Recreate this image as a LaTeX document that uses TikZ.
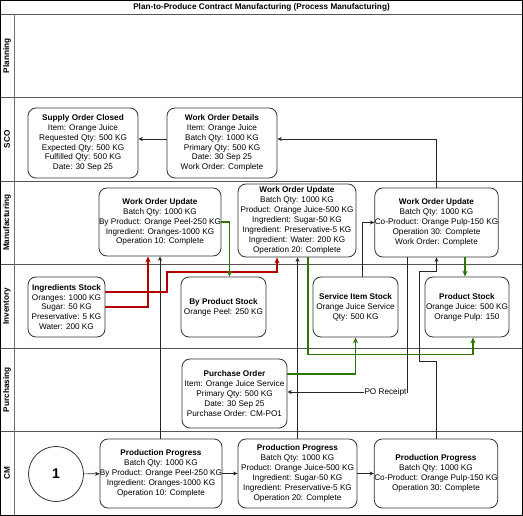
\documentclass[tikz,border=0pt]{standalone}
\usepackage{fontspec}
\setmainfont{Liberation Sans}
\usetikzlibrary{arrows.meta,calc}
\definecolor{myred}{HTML}{B20000}
\definecolor{mygreen}{HTML}{2D7600}
\definecolor{boxline}{HTML}{333333}
\definecolor{laneline}{HTML}{555555}
\begin{document}
\begin{tikzpicture}[x=1pt,y=-1pt,
  box/.style={draw=boxline,line width=0.8pt,rounded corners=8pt,fill=white,align=center,inner sep=0pt,font=\fontsize{8.2}{9.9}\selectfont},
  lanelabel/.style={rotate=90,font=\bfseries\fontsize{8.2}{10}\selectfont},
  conn/.style={draw=black!85,line width=0.7pt,-{Stealth[length=4.5pt,width=4pt]}},
  redc/.style={draw=myred,line width=1.1pt,-{Stealth[length=6pt,width=5pt]}},
  greenc/.style={draw=mygreen,line width=1.1pt,-{Stealth[length=6pt,width=5pt]}},
  lane/.style={draw=laneline,line width=0.9pt}
]
\useasboundingbox (0,0) rectangle (523,516);
% lanes
\draw[lane] (0,14) -- (523,14);
\foreach \yy in {97.5,181,264.5,348,431.5} {\draw[lane] (0,\yy) -- (523,\yy);}
\draw[draw=black!55,line width=0.9pt] (14,14) -- (14,516);
\draw[line width=1pt] (0.5,0.5) rectangle (522.5,515.5);
\node[font=\bfseries\fontsize{8.2}{10}\selectfont] (title) at (261.5,7.5) {Plan-to-Produce Contract Manufacturing (Process Manufacturing)};
\node[lanelabel] (lplan) at (7,55.75) {Planning};
\node[lanelabel] (lsco) at (7,139.25) {SCO};
\node[lanelabel] (lman) at (7,222.75) {Manufacturing};
\node[lanelabel] (linv) at (7,306.25) {Inventory};
\node[lanelabel] (lpur) at (7,389.75) {Purchasing};
\node[lanelabel] (lcm) at (7,473.25) {CM};

% SCO
\node[box,minimum width=110pt,minimum height=70pt] (soc) at (83,143) {\textbf{Supply Order Closed}\\Item: Orange Juice\\Requested Qty: 500 KG\\Expected Qty: 500 KG\\Fulfilled Qty: 500 KG\\Date: 30 Sep 25};
\node[box,minimum width=110pt,minimum height=70pt] (wod) at (222,143) {\textbf{Work Order Details}\\Item: Orange Juice\\Batch Qty: 1000 KG\\Primary Qty: 500 KG\\Date: 30 Sep 25\\Work Order: Complete};

% Manufacturing
\node[box,minimum width=118pt,minimum height=68pt] (wou1) at (160,222) {\textbf{Work Order Update}\\Batch Qty: 1000 KG\\By Product: Orange Peel-250 KG\\Ingredient: Oranges-1000 KG\\Operation 10: Complete};
\node[box,minimum width=118pt,minimum height=73pt] (wou2) at (297,220.5) {\textbf{Work Order Update}\\Batch Qty: 1000 KG\\Product: Orange Juice-500 KG\\Ingredient: Sugar-50 KG\\Ingredient: Preservative-5 KG\\Ingredient: Water: 200 KG\\Operation 20: Complete};
\node[box,minimum width=119pt,minimum height=69pt] (wou3) at (436.5,222.5) {\textbf{Work Order Update}\\Batch Qty: 1000 KG\\Co-Product: Orange Pulp-150 KG\\Operation 30: Complete\\Work Order: Complete};

% Inventory
\node[box,minimum width=77pt,minimum height=60pt] (is) at (66.5,307) {\textbf{Ingredients Stock}\\Oranges: 1000 KG\\Sugar: 50 KG\\Preservative: 5 KG\\Water: 200 KG};
\node[box,minimum width=85pt,minimum height=60pt] (bps) at (223.5,307) {\textbf{By Product Stock}\\Orange Peel: 250 KG};
\node[box,minimum width=85pt,minimum height=60pt] (sis) at (355.5,307) {\textbf{Service Item Stock}\\Orange Juice Service\\Qty: 500 KG};
\node[box,minimum width=84pt,minimum height=60pt] (ps) at (467,307) {\textbf{Product Stock}\\Orange Juice: 500 KG\\Orange Pulp: 150};

% Purchasing
\node[box,minimum width=105pt,minimum height=69pt] (po) at (234.5,393.5) {\textbf{Purchase Order}\\Item: Orange Juice Service\\Primary Qty: 500 KG\\Date: 30 Sep 25\\Purchase Order: CM-PO1};

% CM
\node[draw=boxline,line width=0.8pt,circle,fill=white,minimum size=55pt,inner sep=0pt,font=\bfseries\fontsize{14}{16}\selectfont] (c1) at (56,474) {1};
\node[box,minimum width=118pt,minimum height=69pt] (pp1) at (161,473.5) {\textbf{Production Progress}\\Batch Qty: 1000 KG\\By Product: Orange Peel-250 KG\\Ingredient: Oranges-1000 KG\\Operation 10: Complete};
\node[box,minimum width=119pt,minimum height=69pt] (pp2) at (297.5,473.5) {\textbf{Production Progress}\\Batch Qty: 1000 KG\\Product: Orange Juice-500 KG\\Ingredient: Sugar-50 KG\\Ingredient: Preservative-5 KG\\Operation 20: Complete};
\node[box,minimum width=118pt,minimum height=69pt] (pp3) at (436,473.5) {\textbf{Production Progress}\\Batch Qty: 1000 KG\\Co-Product: Orange Pulp-150 KG\\Operation 30: Complete};

% CM connectors
\draw[conn] (c1) -- (pp1);
\draw[conn] (pp1) -- (pp2);
\draw[conn] (pp2) -- (pp3);
\draw[conn] ([xshift=-1pt]pp1.north) -- ([xshift=-1pt]pp1.north |- wou1.south);
\draw[conn] (pp2.north) -- (pp2.north |- wou2.south);
\draw[conn] (pp3.north) -- ++(0,-77) -| ++(-17,-90) -| (wou3.south);

% SCO connectors
\draw[conn] (wou3.north) |- ([yshift=4pt]wod.east);
\draw[conn] ([yshift=4pt]wod.west) -- ([yshift=4pt]soc.east);

% inventory / manufacturing connectors
\draw[redc] (is.east) -| ([xshift=-12pt]wou1.south);
\draw[redc] ([yshift=15pt]is.east) -| (167,272) -| ([xshift=-20pt]wou2.south);
\draw[greenc] (wou1.east) -| ([xshift=6pt]bps.north);
\draw[greenc] ([xshift=11pt]wou2.south) -- ++(0,97) -| ([xshift=6pt]ps.south);
\draw[greenc] ([xshift=28.5pt]wou3.south) -- ([xshift=-2pt]ps.north);
\draw[greenc] ([yshift=19.5pt]po.east) -| (sis.south);
\draw[conn] ([xshift=6.5pt]sis.north) |- (wou3.west);
\draw[conn] ([xshift=-29.5pt]wou3.south) |- ([yshift=1.5pt]po.east) node[pos=0.59,fill=white,inner sep=1pt,font=\fontsize{8.2}{9.9}\selectfont] (rcpt) {PO Receipt};
\end{tikzpicture}
\end{document}
